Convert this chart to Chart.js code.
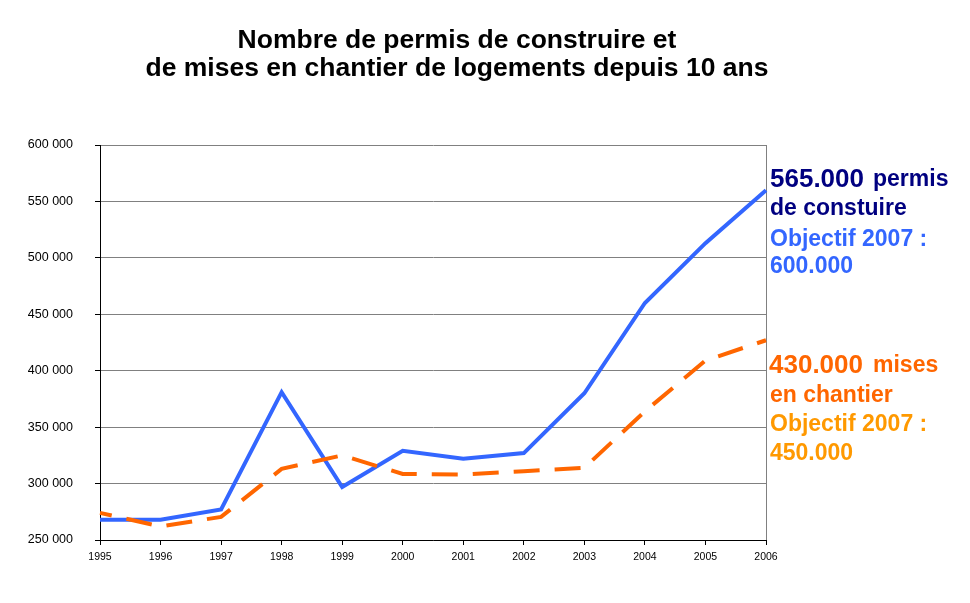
<!DOCTYPE html>
<html>
<head>
<meta charset="utf-8">
<script src="https://cdn.jsdelivr.net/npm/chart.js@4"></script>
<style>
  html, body { margin: 0; padding: 0; background: #fff; }
  #wrap { position: relative; width: 970px; height: 603px; overflow: hidden; font-family: "Liberation Sans", Arial, sans-serif; }
  canvas { position: absolute; left: 0; top: 0; }
  .t { position: absolute; white-space: nowrap; font-weight: bold; line-height: 1; }
  .title { font-size: 26.5px; color: #000; width: 970px; left: -28px; text-align: center; }
  .a23 { font-size: 23px; }
  .a26 { font-size: 26px; }
</style>
</head>
<body>
<div id="wrap">
  <canvas id="c" width="970" height="603"></canvas>
  <div class="t title" style="top:26px;">Nombre de permis de construire et</div>
  <div class="t title" style="top:54px;">de mises en chantier de logements depuis 10 ans</div>

  <div class="t a26" style="left:770px; top:165px; color:#000080;">565.000</div>
  <div class="t a23" style="left:873px; top:167px; color:#000080;">permis</div>
  <div class="t a23" style="left:770px; top:196px; color:#000080;">de constuire</div>
  <div class="t a23" style="left:770px; top:227px; color:#3366FF;">Objectif 2007 :</div>
  <div class="t a23" style="left:770px; top:254px; color:#3366FF;">600.000</div>

  <div class="t a26" style="left:769px; top:351px; color:#FF6600;">430.000</div>
  <div class="t a23" style="left:873px; top:353px; color:#FF6600;">mises</div>
  <div class="t a23" style="left:770px; top:383px; color:#FF6600;">en chantier</div>
  <div class="t a23" style="left:770px; top:412px; color:#FF9900;">Objectif 2007 :</div>
  <div class="t a23" style="left:770px; top:441px; color:#FF9900;">450.000</div>
</div>
<script>
const years = ['1995','1996','1997','1998','1999','2000','2001','2002','2003','2004','2005','2006'];
const permis = [268000, 268000, 277000, 381000, 297000, 329000, 322000, 327000, 380000, 460000, 513000, 560000];
const mises  = [274000, 262000, 270500, 313000, 325000, 308500, 308000, 311000, 314000, 364000, 409000, 427000];
const yTickValues = [250000, 300000, 350000, 400000, 450000, 500000, 550000, 600000];
const yTickLabels = ['250 000', '300 000', '350 000', '400 000', '450 000', '500 000', '550 000', '600 000'];

const rightBorder = {
  id: 'rightBorder',
  beforeDatasetsDraw(chart) {
    const a = chart.chartArea, ctx = chart.ctx;
    ctx.save();
    ctx.strokeStyle = '#808080';
    ctx.lineWidth = 1;
    ctx.beginPath();
    ctx.moveTo(Math.round(a.right) + 0.5, a.top);
    ctx.lineTo(Math.round(a.right) + 0.5, a.bottom);
    ctx.stroke();
    ctx.restore();
  }
};

new Chart(document.getElementById('c'), {
  type: 'line',
  data: {
    labels: years,
    datasets: [
      {
        label: 'Mises en chantier',
        data: mises,
        borderColor: '#FF6600',
        borderWidth: 4,
        borderDash: [26, 15],
        borderDashOffset: 14,
        pointRadius: 0,
        fill: false,
        tension: 0,
        order: 0
      },
      {
        label: 'Permis de construire',
        data: permis,
        borderColor: '#3366FF',
        borderWidth: 4,
        pointRadius: 0,
        fill: false,
        tension: 0,
        order: 1
      }
    ]
  },
  plugins: [rightBorder],
  options: {
    responsive: false,
    animation: false,
    devicePixelRatio: 1,
    layout: { padding: { left: 0, top: 145, right: 204, bottom: 0 } },
    plugins: { legend: { display: false }, title: { display: false }, tooltip: { enabled: false } },
    scales: {
      x: {
        type: 'category',
        offset: false,
        afterFit(s) { s.height = 63; },
        grid: { drawOnChartArea: false, drawTicks: true, tickLength: 5, color: '#000', lineWidth: 1 },
        border: { color: '#000', width: 1 },
        ticks: {
          padding: 6,
          maxRotation: 0,
          autoSkip: false,
          color: '#000',
          font: { family: "'Liberation Sans Narrow', 'Arial Narrow', 'Liberation Sans', Arial, sans-serif", size: 10.5 }
        }
      },
      y: {
        min: 250000,
        max: 600000,
        afterFit(s) { s.width = 100; },
        afterBuildTicks(s) { s.ticks = yTickValues.map(v => ({ value: v })); },
        grid: { color: '#808080', lineWidth: 1, tickLength: 5, tickColor: '#000', drawTicks: true },
        border: { color: '#000', width: 1 },
        ticks: {
          padding: 22,
          color: '#000',
          font: { family: "'Liberation Sans', Arial, sans-serif", size: 12.5 },
          callback(v) { const i = yTickValues.indexOf(v); return i >= 0 ? yTickLabels[i] : ''; }
        }
      }
    }
  }
});
</script>
</body>
</html>
